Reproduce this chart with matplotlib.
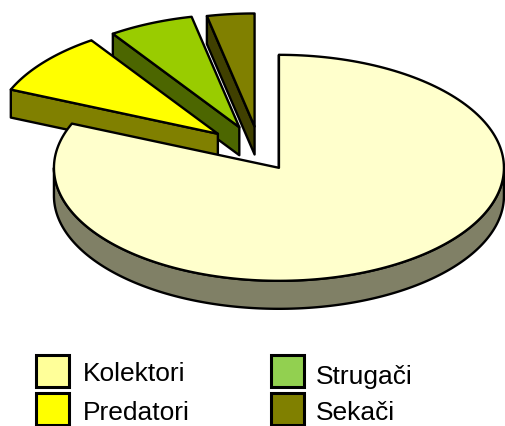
import numpy as np
import matplotlib
matplotlib.use('Agg')
import matplotlib.pyplot as plt
from matplotlib.patches import Polygon, Rectangle

plt.rcParams['font.family'] = ['Liberation Sans', 'DejaVu Sans']

# udio po kategoriji, u postocima (procitano sa slike)
labels = ['Kolektori', 'Predatori', 'Strugači', 'Sekači']
values = [81.4, 9.1, 6.1, 3.4]

top_colors = ['#FFFFCC', '#FFFF00', '#99CC00', '#808000']
side_colors = ['#808066', '#808000', '#4C6600', '#404000']
legend_colors = ['#FFFF99', '#FFFF00', '#92D050', '#808000']

# geometrija u pikselima
cx, cy = 253.5, 148.5
rx, ry = 225.0, 113.0
depth = 28
explode = 0.205
nudge_x = [0, 0, 4, 6]
nudge_y = [0, 0, 0, 1]
lw = 1.7

fig = plt.figure(figsize=(5.05, 4.26), dpi=100)
ax = fig.add_axes([0, 0, 1, 1])
ax.set_xlim(0, 505)
ax.set_ylim(426, 0)
ax.axis('off')


def arc(x0, y0, t1, t2):
    t = np.radians(np.linspace(t1, t2, 200))
    return np.column_stack([x0 + rx * np.cos(t), y0 - ry * np.sin(t)])


def draw_wedge(i, t_start, t_end):
    # t_start je kraj u smjeru kazaljke, t_end suprotni kraj (stupnjevi)
    mid = np.radians((t_start + t_end) / 2)
    x0 = cx + explode * rx * np.cos(mid) + nudge_x[i]
    y0 = cy - explode * ry * np.sin(mid) + nudge_y[i]
    shift = np.array([0, depth])
    # bocna stranica uz radijalni rub
    edge = arc(x0, y0, t_end, t_end)[0]
    ctr = np.array([x0, y0])
    side = [ctr, edge, edge + shift, ctr + shift]
    ax.add_patch(Polygon(side, closed=True, fc=side_colors[i], ec='black',
                         lw=lw, joinstyle='round', zorder=10 + 2 * (4 - i)))
    # vanjski obod, samo donja polovica elipse
    lo = max(t_start, -180)
    hi = min(t_end, 0)
    if hi > lo:
        rim = arc(x0, y0, lo, hi)
        ax.add_patch(Polygon(np.vstack([rim, (rim + shift)[::-1]]), closed=True,
                             fc=side_colors[i], ec='black', lw=lw,
                             joinstyle='round', zorder=10 + 2 * (4 - i)))
    top = np.vstack([ctr, arc(x0, y0, t_start, t_end)])
    ax.add_patch(Polygon(top, closed=True, fc=top_colors[i], ec='black', lw=lw,
                         joinstyle='round', zorder=11 + 2 * (4 - i)))


# pita krece od vrha i ide u smjeru kazaljke
angles = np.cumsum([0] + values) / sum(values) * 360
order = [3, 2, 1, 0]
for i in order:
    draw_wedge(i, 90 - angles[i + 1], 90 - angles[i])

# legenda
swatch_x = [36, 36, 271, 271]
swatch_y = [355, 393, 355, 393]
text_x = [83, 83, 316, 316]
text_y = [381, 420, 384, 420]
for i in range(4):
    ax.add_patch(Rectangle((swatch_x[i], swatch_y[i]), 33, 32, fc=legend_colors[i],
                           ec='black', lw=2.2, zorder=30))
    ax.text(text_x[i], text_y[i], labels[i], fontsize=19, color='black',
            ha='left', va='baseline', zorder=31)

fig.savefig('out.png', dpi=100)
